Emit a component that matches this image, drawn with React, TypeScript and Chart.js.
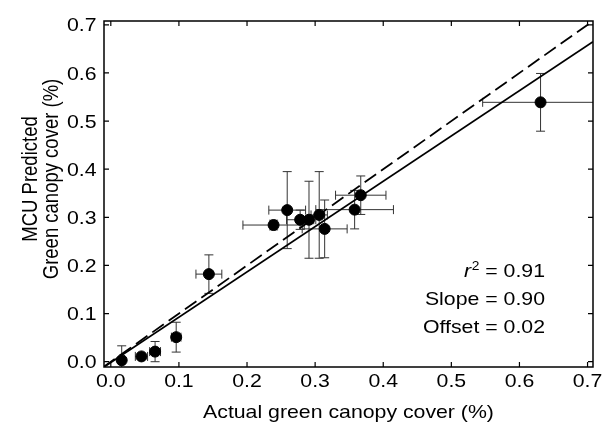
import React, { useEffect, useRef } from "react";
import { Chart, registerables } from "chart.js";

Chart.register(...registerables);

const X_VALUES = [0.016, 0.045, 0.065, 0.096, 0.144, 0.239, 0.259, 0.278, 0.291, 0.306, 0.314, 0.358, 0.367, 0.631];
const Y_VALUES = [0.003, 0.011, 0.021, 0.051, 0.182, 0.284, 0.315, 0.295, 0.295, 0.305, 0.276, 0.316, 0.346, 0.539];
const X_ERR = [0.0, 0.009, 0.008, 0.007, 0.019, 0.045, 0.027, 0.02, 0.01, 0.012, 0.033, 0.057, 0.037, 0.085];
const Y_ERR = [0.03, 0.004, 0.021, 0.031, 0.04, 0.01, 0.08, 0.02, 0.08, 0.09, 0.06, 0.04, 0.04, 0.06];

const FIT_X = [-0.01, 0.708];
const FIT_Y = [-0.011, 0.665];
const ONE_TO_ONE = [-0.011, 0.708];

const TICKS = [0, 0.1, 0.2, 0.3, 0.4, 0.5, 0.6, 0.7];
const TICK_LABELS = ["0.0", "0.1", "0.2", "0.3", "0.4", "0.5", "0.6", "0.7"];
const X_MIN = -0.01;
const X_MAX = 0.708;
const Y_MIN = -0.011;
const Y_MAX = 0.708;

const X_TITLE = "Actual green canopy cover (%)";
const Y_TITLE = ["MCU Predicted", "Green canopy cover (%)"];
const STATS = ["= 0.91", "Slope = 0.90", "Offset = 0.02"];

const FONT = "'Liberation Sans', Arial, sans-serif";
const FS = 18.5;
const SX = 1.15;

function drawText(ctx: any, text: string, x: number, y: number, align: string, font: string, rot = 0) {
  ctx.save();
  ctx.translate(x, y);
  ctx.scale(SX, 1);
  if (rot) ctx.rotate(rot);
  ctx.font = font;
  ctx.textAlign = align;
  ctx.textBaseline = "alphabetic";
  ctx.fillText(text, 0, 0);
  ctx.restore();
}

const decorPlugin = {
  id: "decor",
  beforeDatasetsDraw(chart: any) {
    const { ctx, chartArea, scales } = chart;
    const xs = scales.x;
    const ys = scales.y;
    ctx.save();
    ctx.beginPath();
    ctx.rect(chartArea.left, chartArea.top, chartArea.right - chartArea.left, chartArea.bottom - chartArea.top);
    ctx.clip();
    ctx.strokeStyle = "#333";
    ctx.lineWidth = 1;
    const cap = 4.5;
    for (let i = 0; i < X_VALUES.length; i++) {
      const px = xs.getPixelForValue(X_VALUES[i]);
      const py = ys.getPixelForValue(Y_VALUES[i]);
      if (Y_ERR[i] > 0) {
        const t = ys.getPixelForValue(Y_VALUES[i] + Y_ERR[i]);
        const b = ys.getPixelForValue(Y_VALUES[i] - Y_ERR[i]);
        ctx.beginPath();
        ctx.moveTo(px, t); ctx.lineTo(px, b);
        ctx.moveTo(px - cap, t); ctx.lineTo(px + cap, t);
        ctx.moveTo(px - cap, b); ctx.lineTo(px + cap, b);
        ctx.stroke();
      }
      if (X_ERR[i] > 0) {
        const l = xs.getPixelForValue(X_VALUES[i] - X_ERR[i]);
        const r = xs.getPixelForValue(X_VALUES[i] + X_ERR[i]);
        ctx.beginPath();
        ctx.moveTo(l, py); ctx.lineTo(r, py);
        ctx.moveTo(l, py - cap); ctx.lineTo(l, py + cap);
        ctx.moveTo(r, py - cap); ctx.lineTo(r, py + cap);
        ctx.stroke();
      }
    }
    ctx.restore();
  },
  afterDraw(chart: any) {
    const { ctx, chartArea, scales } = chart;
    const xs = scales.x;
    const ys = scales.y;
    const { left, right, top, bottom } = chartArea;
    ctx.save();
    ctx.strokeStyle = "#000";
    ctx.lineWidth = 1.5;
    ctx.strokeRect(left, top, right - left, bottom - top);
    ctx.lineWidth = 1.2;
    const tl = 5;
    ctx.beginPath();
    for (const v of TICKS) {
      const px = xs.getPixelForValue(v);
      ctx.moveTo(px, bottom); ctx.lineTo(px, bottom - tl);
      ctx.moveTo(px, top); ctx.lineTo(px, top + tl);
      const py = ys.getPixelForValue(v);
      ctx.moveTo(left, py); ctx.lineTo(left + tl, py);
      ctx.moveTo(right, py); ctx.lineTo(right - tl, py);
    }
    ctx.stroke();

    ctx.fillStyle = "#000";
    const f = `${FS}px ${FONT}`;
    TICKS.forEach((v, i) => {
      drawText(ctx, TICK_LABELS[i], xs.getPixelForValue(v), 387, "center", f);
      drawText(ctx, TICK_LABELS[i], 96.5, ys.getPixelForValue(v) + 6.6, "right", f);
    });

    drawText(ctx, X_TITLE, (left + right) / 2, 418, "center", f);
    drawText(ctx, Y_TITLE[0], 37, 179, "center", f, -Math.PI / 2);
    drawText(ctx, Y_TITLE[1], 58, 179, "center", f, -Math.PI / 2);

    const rx = 545;
    ctx.font = f;
    const eqText = " " + STATS[0];
    const w = ctx.measureText(eqText).width * SX;
    drawText(ctx, eqText, rx, 277, "right", f);
    const fsub = `${Math.round(FS * 0.65)}px ${FONT}`;
    ctx.font = fsub;
    const w2 = ctx.measureText("2").width * SX;
    drawText(ctx, "2", rx - w, 270, "right", fsub);
    drawText(ctx, "r", rx - w - w2 - 0.5, 277, "right", `italic ${FS}px ${FONT}`);
    drawText(ctx, STATS[1], rx, 305, "right", f);
    drawText(ctx, STATS[2], rx, 332.5, "right", f);
    ctx.restore();
  },
};

export default function App() {
  const ref = useRef<HTMLCanvasElement | null>(null);
  useEffect(() => {
    if (!ref.current) return;
    const setTicks = (s: any) => {
      s.ticks = TICKS.map((v) => ({ value: v }));
    };
    const chart = new Chart(ref.current, {
      type: "scatter",
      data: {
        datasets: [
          {
            type: "line",
            data: FIT_X.map((x, i) => ({ x, y: FIT_Y[i] })),
            borderColor: "#000",
            borderWidth: 1.8,
            pointRadius: 0,
            fill: false,
          } as any,
          {
            type: "line",
            data: ONE_TO_ONE.map((x) => ({ x, y: x })),
            borderColor: "#000",
            borderWidth: 1.8,
            borderDash: [14, 6],
            pointRadius: 0,
            fill: false,
          } as any,
          {
            data: X_VALUES.map((x, i) => ({ x, y: Y_VALUES[i] })),
            backgroundColor: "#000",
            borderColor: "#000",
            pointRadius: 5.5,
            pointHoverRadius: 5.5,
          },
        ],
      },
      options: {
        responsive: false,
        animation: false,
        devicePixelRatio: 1,
        layout: { padding: { top: 21, right: 10, left: 0, bottom: 0 } },
        plugins: { legend: { display: false }, tooltip: { enabled: false } },
        scales: {
          x: {
            type: "linear",
            min: X_MIN,
            max: X_MAX,
            afterBuildTicks: setTicks,
            afterFit: (s: any) => { s.height = 64; s.paddingLeft = 0; s.paddingRight = 0; },
            grid: { display: false, drawTicks: false },
            border: { display: false },
            ticks: { display: false },
          },
          y: {
            type: "linear",
            min: Y_MIN,
            max: Y_MAX,
            afterBuildTicks: setTicks,
            afterFit: (s: any) => { s.width = 104; s.paddingTop = 0; s.paddingBottom = 0; },
            grid: { display: false, drawTicks: false },
            border: { display: false },
            ticks: { display: false },
          },
        },
      },
      plugins: [decorPlugin],
    });
    return () => chart.destroy();
  }, []);
  return (
    <div style={{ position: "absolute", left: 0, top: 0, width: 603, height: 431, background: "#fff" }}>
      <canvas ref={ref} width={603} height={431} />
    </div>
  );
}
